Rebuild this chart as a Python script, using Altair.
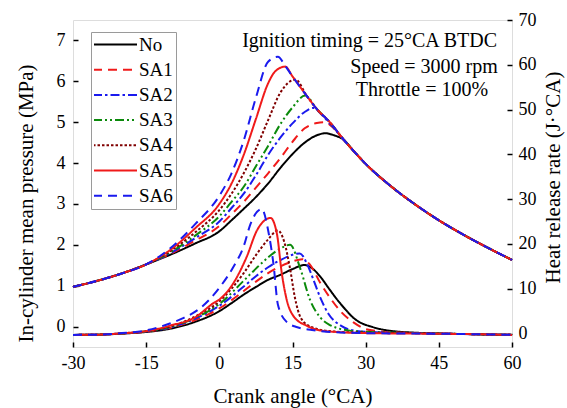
import altair as alt
import pandas as pd

F = "'Liberation Serif', 'Times New Roman', serif"

SERIES = ["No", "SA1", "SA2", "SA3", "SA4", "SA5", "SA6"]
COLORS = ["#000000", "#f01a1a", "#1a1aee", "#0b8a0b", "#800000", "#f01a1a", "#1a1aee"]
DASHES = [[1, 0], [9, 6], [9, 3, 2.5, 3], [9, 3, 2, 3, 2, 3], [2.5, 2], [1, 0], [9, 6]]

# ---- In-cylinder mean pressure (MPa) ----
P_HEAD_X = [-30, -25, -20, -15]
P_HEAD_Y = [0.97, 1.12, 1.3, 1.52]
P_TAIL_X = [27.5, 30, 35, 40, 45, 50, 55, 60]
P_TAIL_Y = [4.3, 3.98, 3.45, 3.0, 2.6, 2.25, 1.93, 1.63]

P_NO_X = [-10, -5, 0, 2.5, 5, 7.5, 10, 12.5, 15, 17.5, 20, 21.7, 23.5, 25.5]
P_NO_Y = [1.76, 2.03, 2.33, 2.6, 2.88, 3.17, 3.5, 3.88, 4.22, 4.5, 4.68, 4.73, 4.68, 4.57]
P_SA1_X = [-10, -5, 0, 2.5, 5, 7.5, 10, 12.5, 15, 17.5, 20, 21.5, 23.5, 25.5]
P_SA1_Y = [1.78, 2.1, 2.46, 2.75, 3.05, 3.4, 3.75, 4.12, 4.52, 4.85, 4.98, 5.0, 4.85, 4.57]
P_SA2_X = [-10, -5, 0, 2.5, 5, 7.5, 10, 12.5, 15, 17.5, 19.3, 21, 23.5, 25.5]
P_SA2_Y = [1.8, 2.16, 2.57, 2.9, 3.25, 3.7, 4.2, 4.62, 4.97, 5.25, 5.35, 5.18, 4.85, 4.57]
P_SA3_X = [-10, -5, 0, 2.5, 5, 7.5, 10, 12.5, 15, 17.6, 20, 22.5, 25.5]
P_SA3_Y = [1.82, 2.22, 2.7, 3.05, 3.42, 3.92, 4.42, 4.95, 5.36, 5.65, 5.32, 5.02, 4.57]
P_SA4_X = [-10, -5, 0, 2.5, 5, 7.5, 10, 12.5, 15.6, 18, 20, 22.5, 25.5]
P_SA4_Y = [1.85, 2.3, 2.85, 3.25, 3.75, 4.35, 5.05, 5.72, 6.04, 5.63, 5.32, 5.02, 4.57]
P_SA5_X = [-10, -5, 0, 2.5, 5, 7.5, 10, 11.5, 13.5, 15, 18, 20, 22.5, 25.5]
P_SA5_Y = [1.88, 2.4, 3.0, 3.5, 4.2, 5.08, 5.95, 6.25, 6.36, 6.12, 5.63, 5.32, 5.02, 4.57]
P_SA6_X = [-10, -5, 0, 2.5, 5, 7.5, 10, 12, 13.5, 15, 18, 20, 22.5, 25.5]
P_SA6_Y = [1.92, 2.5, 3.2, 3.75, 4.55, 5.6, 6.48, 6.6, 6.38, 6.12, 5.63, 5.32, 5.02, 4.57]

# ---- Heat release rate (J/°CA) ----
H_NO_X = [-30, -25, -20, -15, -10, -5, 0, 2.5, 5, 7.5, 10, 12.5, 15, 17.5, 19, 20.7, 22.5, 24, 26, 27.5, 29, 31, 33, 36, 40, 45, 50, 55, 60]
H_NO_Y = [-0.3, -0.25, 0, 0.35, 1.1, 2.6, 5, 6.8, 8.7, 10.4, 12, 13.1, 14.4, 15.3, 14.6, 12.7, 10, 7.8, 5.2, 3.5, 2.4, 1.6, 1.0, 0.5, 0.2, 0, -0.1, -0.2, -0.3]
H_SA1_X = [-30, -25, -20, -15, -10, -5, 0, 5, 7.5, 10, 12.5, 15, 17, 18.5, 20.7, 22.5, 25, 27.5, 30, 33, 38, 45, 50, 55, 60]
H_SA1_Y = [-0.3, -0.25, 0, 0.4, 1.3, 3.0, 5.6, 9.5, 11.6, 13.5, 15, 16.1, 16.6, 15.5, 11.3, 8.3, 4.8, 2.5, 1.0, 0.5, 0.2, 0, -0.1, -0.2, -0.3]
H_SA2_X = [-30, -25, -20, -15, -10, -5, 0, 5, 7.5, 10, 12.5, 15, 16.5, 18, 19.3, 20.7, 22.5, 25, 28, 32, 40, 50, 60]
H_SA2_Y = [-0.3, -0.25, 0, 0.45, 1.4, 3.3, 6.2, 10.5, 12.8, 14.8, 16.4, 17.6, 17.9, 15.5, 12, 8.0, 4.2, 1.7, 0.6, 0.3, 0.1, -0.1, -0.3]
H_SA3_X = [-30, -25, -20, -15, -10, -5, 0, 5, 7.5, 10, 12.5, 14.5, 16.6, 18.6, 20.7, 22.5, 24, 27, 32, 40, 50, 60]
H_SA3_Y = [-0.3, -0.25, 0, 0.5, 1.5, 3.5, 6.6, 11.8, 14.5, 17, 19, 19.8, 14.5, 7.5, 3.6, 2.0, 1.3, 0.6, 0.3, 0.1, -0.1, -0.3]
H_SA4_X = [-30, -25, -20, -15, -10, -5, 0, 5, 7.5, 10, 12, 13.3, 14.5, 15.5, 16.7, 19, 23, 30, 40, 50, 60]
H_SA4_Y = [-0.3, -0.25, 0.05, 0.5, 1.6, 3.8, 7.2, 13.5, 17.5, 21, 23, 20.5, 14.5, 8, 3.5, 1.4, 0.5, 0.2, 0.1, -0.1, -0.3]
H_SA5_X = [-30, -25, -20, -15, -10, -5, -1.2, 0, 2.9, 5.6, 7.7, 9, 10.5, 11.8, 12.8, 13.8, 15.2, 18, 20.7, 25, 30, 40, 50, 60]
H_SA5_Y = [-0.3, -0.25, 0.05, 0.55, 1.8, 3.6, 6.8, 7.6, 11.3, 17.1, 23, 25, 25.8, 22.3, 13.5, 7.6, 3.9, 1.7, 0.7, 0.3, 0.1, 0, -0.1, -0.3]
H_SA6_X = [-30, -25, -20, -15, -10, -7.3, -3.9, 0.2, 2.9, 5, 6.4, 8.7, 10.1, 11.1, 12, 13.8, 16, 19, 22, 30, 40, 50, 60]
H_SA6_Y = [-0.3, -0.25, 0.1, 0.7, 2.3, 3.5, 5.7, 10.5, 14.9, 19.5, 24.5, 27.8, 22.5, 15.5, 6.5, 2.6, 1.4, 0.8, 0.4, 0.1, 0, -0.1, -0.3]

X_TICKS = [-30, -15, 0, 15, 30, 45, 60]
P_TICKS = [0, 1, 2, 3, 4, 5, 6, 7]
H_TICKS = [0, 10, 20, 30, 40, 50, 60, 70]

NOTE_1 = "Ignition timing = 25°CA BTDC"
NOTE_2 = "Speed = 3000 rpm"
NOTE_3 = "Throttle = 100%"

P_MID = [(P_NO_X, P_NO_Y), (P_SA1_X, P_SA1_Y), (P_SA2_X, P_SA2_Y), (P_SA3_X, P_SA3_Y),
         (P_SA4_X, P_SA4_Y), (P_SA5_X, P_SA5_Y), (P_SA6_X, P_SA6_Y)]
H_ALL = [(H_NO_X, H_NO_Y), (H_SA1_X, H_SA1_Y), (H_SA2_X, H_SA2_Y), (H_SA3_X, H_SA3_Y),
         (H_SA4_X, H_SA4_Y), (H_SA5_X, H_SA5_Y), (H_SA6_X, H_SA6_Y)]

rows_p = []
for s, (mx, my) in zip(SERIES, P_MID):
    for x, y in zip(P_HEAD_X + mx + P_TAIL_X, P_HEAD_Y + my + P_TAIL_Y):
        rows_p.append({"s": s, "ca": x, "v": y})
df_p = pd.DataFrame(rows_p)

rows_h = []
for s, (hx, hy) in zip(SERIES, H_ALL):
    for x, y in zip(hx, hy):
        rows_h.append({"s": s, "ca": x, "v": y})
df_h = pd.DataFrame(rows_h)

leg = alt.Legend(
    title=None, orient="none", legendX=18, legendY=12,
    symbolType="stroke", symbolSize=1936, symbolStrokeWidth=2, symbolOffset=-2,
    clipHeight=19, rowPadding=5.2, padding=3,
    labelFont=F, labelFontSize=19, labelColor="black", labelOffset=1,
    strokeColor="#9a9a9a", fillColor="white",
)
color = alt.Color("s:N", scale=alt.Scale(domain=SERIES, range=COLORS), legend=leg)
dash = alt.StrokeDash("s:N", scale=alt.Scale(domain=SERIES, range=DASHES), legend=leg)

common_axis = dict(
    offset=-5, tickSize=5, domain=False, grid=False, labelFlush=False,
    labelFont=F, labelFontSize=18, labelColor="black",
    tickColor="black", tickWidth=1.5,
    titleFont=F, titleFontSize=21, titleFontWeight="normal", titleColor="black",
)

xenc = alt.X("ca:Q", scale=alt.Scale(domain=[-30, 60], nice=False, zero=False),
             axis=alt.Axis(values=X_TICKS, title="Crank angle (°CA)", labelPadding=7,
                           labelExpr="'' + datum.value",
                           titlePadding=13, **common_axis))

pressure = alt.Chart(df_p).mark_line(strokeWidth=2, interpolate="monotone").encode(
    x=xenc,
    y=alt.Y("v:Q", scale=alt.Scale(domain=[-0.5, 7.5], nice=False, zero=False),
            axis=alt.Axis(values=P_TICKS, orient="left", title="In-cylinder mean pressure (MPa)",
                          labelPadding=8, titlePadding=20, titleY=183, **common_axis)),
    color=color, strokeDash=dash,
)

hrr = alt.Chart(df_h).mark_line(strokeWidth=2, interpolate="monotone").encode(
    x=xenc,
    y=alt.Y("v:Q", scale=alt.Scale(domain=[-3, 70], nice=False, zero=False),
            axis=alt.Axis(values=H_TICKS, orient="right", title="Heat release rate (J·°CA)",
                          labelPadding=6, titlePadding=6, titleY=157, titleAngle=270,
                          titleBaseline="top", **common_axis)),
    color=color, strokeDash=dash,
)

note_df = pd.DataFrame({"t": [NOTE_1, NOTE_2, NOTE_3]})
t1 = alt.Chart(note_df).transform_filter(alt.datum.t == NOTE_1).mark_text(
    font=F, fontSize=20, align="right", baseline="middle", color="black"
).encode(text="t:N", x=alt.value(424), y=alt.value(21))
t2 = alt.Chart(note_df).transform_filter(alt.datum.t == NOTE_2).mark_text(
    font=F, fontSize=20, align="center", baseline="middle", color="black"
).encode(text="t:N", x=alt.value(351), y=alt.value(47))
t3 = alt.Chart(note_df).transform_filter(alt.datum.t == NOTE_3).mark_text(
    font=F, fontSize=20, align="center", baseline="middle", color="black"
).encode(text="t:N", x=alt.value(349), y=alt.value(70))

chart = alt.layer(pressure, hrr, t1, t2, t3).resolve_scale(y="independent").properties(
    width=439, height=327,
    padding={"left": 73, "top": 20, "right": 55, "bottom": 61},
    autosize=alt.AutoSizeParams(type="none"),
).configure_view(stroke="black", strokeWidth=1.5).configure(background="white")

chart.save("out.html", embed_options={"renderer": "svg", "actions": False})
